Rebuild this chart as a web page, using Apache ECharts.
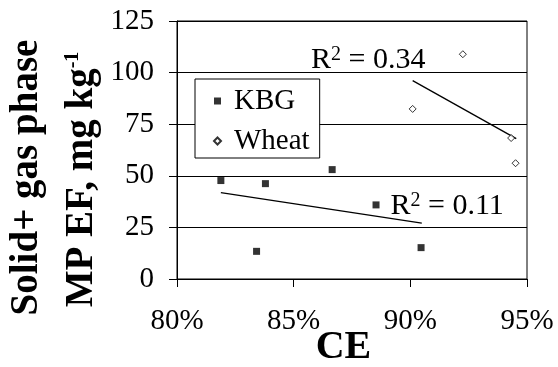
<!DOCTYPE html>
<html>
<head>
<meta charset="utf-8">
<script src="https://cdn.jsdelivr.net/npm/echarts@6/dist/echarts.min.js"></script>
<style>
html,body{margin:0;padding:0;background:#fff;}
#c{width:558px;height:367px;}
</style>
</head>
<body>
<div id="c"></div>
<script>
// ---- data ----
var kbgCE = [81.88, 83.41, 83.79, 86.65, 88.53, 90.46];
var kbgEF = [47.7, 13.4, 46.2, 53.0, 35.9, 15.2];
var wheatCE = [90.10, 92.25, 94.32, 94.51];
var wheatEF = [82.4, 108.9, 68.3, 56.1];
var kbgTrendCE = [81.88, 90.49];
var kbgTrendEF = [41.9, 27.1];
var wheatTrendCE = [90.10, 94.54];
var wheatTrendEF = [96.1, 68.0];
var seriesNames = ['KBG', 'Wheat'];
var r2Labels = ['0.11', '0.34'];
var xTitle = 'CE';
var yTitle1 = 'Solid+ gas phase';
var yTitle2 = 'MP EF, mg kg';
var yTitleSup = '-1';

function pairs(xs, ys) { return xs.map(function (x, i) { return [x, ys[i]]; }); }

var FONT = "'Liberation Serif','Times New Roman',serif";
var chart = echarts.init(document.getElementById('c'), null, { renderer: 'canvas' });

// R² annotation made of three text pieces (R, raised 2, rest)
function r2Group(x, y, value) {
  return {
    type: 'group', x: x, y: y, z: 10,
    children: [
      { type: 'text', x: 0, y: 0, style: { text: 'R', font: '30px ' + FONT, fill: '#000', align: 'left', verticalAlign: 'middle' } },
      { type: 'text', x: 20, y: -5.7, style: { text: '2', font: '20px ' + FONT, fill: '#000', align: 'left', verticalAlign: 'middle' } },
      { type: 'text', x: 30, y: 0, style: { text: ' = ' + value, font: '30px ' + FONT, fill: '#000', align: 'left', verticalAlign: 'middle' } }
    ]
  };
}

var option = {
  backgroundColor: '#fff',
  animation: false,
  grid: { left: 177, top: 21, width: 350, height: 258, show: true, borderColor: '#000', borderWidth: 1, backgroundColor: 'transparent' },
  xAxis: {
    type: 'value', min: 80, max: 95, interval: 5,
    axisLine: { lineStyle: { color: '#000', width: 1 } },
    axisTick: { show: true, length: 8, lineStyle: { color: '#000' } },
    axisLabel: { formatter: '{value}%', fontFamily: FONT, fontSize: 29, color: '#000', margin: 28 },
    splitLine: { show: false }
  },
  yAxis: {
    type: 'value', min: 0, max: 125, interval: 25,
    axisLine: { show: true, lineStyle: { color: '#000', width: 1 } },
    axisTick: { show: true, length: 8, lineStyle: { color: '#000' } },
    axisLabel: { fontFamily: FONT, fontSize: 29, color: '#000', margin: 23 },
    splitLine: { show: true, lineStyle: { color: '#000', width: 1 } }
  },
  legend: {
    orient: 'vertical', left: 195, top: 79,
    data: seriesNames,
    backgroundColor: '#fff', borderColor: '#000', borderWidth: 1,
    padding: [7, 10, 2, 18],
    itemGap: 10, itemWidth: 7, itemHeight: 7,
    textStyle: { fontFamily: FONT, fontSize: 29, color: '#000', lineHeight: 30, padding: [0, 0, 0, 8] }
  },
  series: [
    {
      name: seriesNames[0], type: 'scatter', symbol: 'rect', symbolSize: 7,
      itemStyle: { color: '#000' },
      data: pairs(kbgCE, kbgEF), z: 5
    },
    {
      name: seriesNames[1], type: 'scatter', symbol: 'diamond', symbolSize: 7,
      itemStyle: { color: '#fff', borderColor: '#000', borderWidth: 1 },
      data: pairs(wheatCE, wheatEF), z: 5
    },
    {
      name: 'KBG trend', type: 'line', symbol: 'none', silent: true,
      lineStyle: { color: '#000', width: 1.3 },
      data: pairs(kbgTrendCE, kbgTrendEF), z: 4
    },
    {
      name: 'Wheat trend', type: 'line', symbol: 'none', silent: true,
      lineStyle: { color: '#000', width: 1.3 },
      data: pairs(wheatTrendCE, wheatTrendEF), z: 4
    }
  ],
  graphic: [
    {
      type: 'text', x: 27, y: 177.5, rotation: Math.PI / 2,
      style: { text: yTitle1, font: 'bold 39px ' + FONT, fill: '#000', align: 'center', verticalAlign: 'middle' }
    },
    {
      type: 'text', x: 82, y: 179.5, rotation: Math.PI / 2,
      style: {
        text: '{a|' + yTitle2 + '}{s|' + yTitleSup + '}',
        align: 'center', verticalAlign: 'middle', fill: '#000',
        rich: {
          a: { fontFamily: FONT, fontWeight: 'bold', fontSize: 39, lineHeight: 39, fill: '#000' },
          s: { fontFamily: FONT, fontWeight: 'bold', fontSize: 20, lineHeight: 18, verticalAlign: 'top', fill: '#000' }
        }
      }
    },
    {
      type: 'text', x: 343.5, y: 348,
      style: { text: xTitle, font: 'bold 40px ' + FONT, fill: '#000', align: 'center', verticalAlign: 'middle' }
    },
    r2Group(311, 60, r2Labels[1]),
    r2Group(390.5, 206, r2Labels[0])
  ]
};
chart.setOption(option);
</script>
</body>
</html>
